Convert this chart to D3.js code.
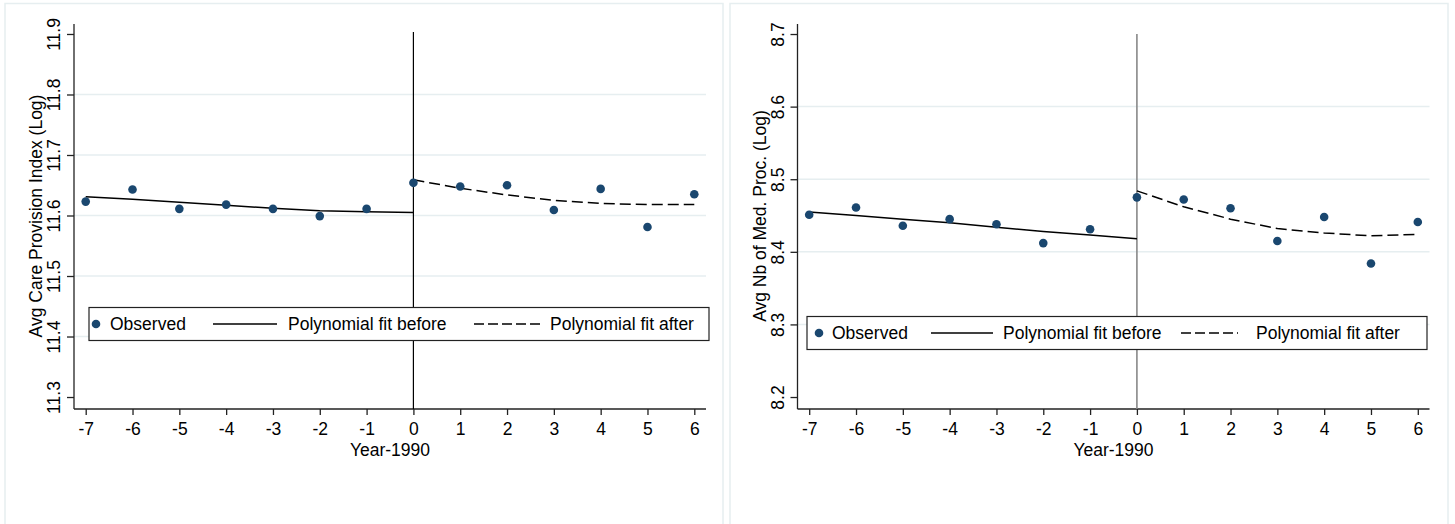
<!DOCTYPE html>
<html>
<head>
<meta charset="utf-8">
<script src="https://cdn.jsdelivr.net/npm/d3@7"></script>
<style>
  body { margin: 0; background: #fff; }
  svg { display: block; }
</style>
</head>
<body>
<svg id="chart" width="1455" height="524"></svg>
<script>
// data
const years = [-7, -6, -5, -4, -3, -2, -1, 0, 1, 2, 3, 4, 5, 6];
const yearsBefore = [-7, -6, -5, -4, -3, -2, -1, 0];
const yearsAfter = [0, 1, 2, 3, 4, 5, 6];

const careObserved = [11.623, 11.643, 11.611, 11.618, 11.611, 11.599, 11.611,
                      11.654, 11.648, 11.650, 11.609, 11.644, 11.581, 11.635];
const careFitBefore = [11.631, 11.627, 11.622, 11.617, 11.612, 11.608, 11.606, 11.605];
const careFitAfter = [11.659, 11.645, 11.634, 11.625, 11.620, 11.618, 11.618];
const careTicks = [11.3, 11.4, 11.5, 11.6, 11.7, 11.8, 11.9];

const medObserved = [8.451, 8.461, 8.436, 8.445, 8.438, 8.412, 8.431,
                     8.475, 8.472, 8.460, 8.415, 8.448, 8.384, 8.441];
const medFitBefore = [8.455, 8.450, 8.445, 8.440, 8.434, 8.428, 8.423, 8.418];
const medFitAfter = [8.484, 8.462, 8.445, 8.432, 8.426, 8.422, 8.424];
const medTicks = [8.2, 8.3, 8.4, 8.5, 8.6, 8.7];

const legendLabels = ["Observed", "Polynomial fit before", "Polynomial fit after"];

const dotColor = "#1a476f";
const gridColor = "#e6eef0";
const font = "'Liberation Sans', Arial, sans-serif";
const fontSize = 17.5;

const svg = d3.select("#chart");

function drawPanel(p) {
  // panel frame
  svg.append("rect")
    .attr("x", p.frameX).attr("y", 3.5)
    .attr("width", 718).attr("height", 540)
    .attr("fill", "#fff")
    .attr("stroke", gridColor)
    .attr("stroke-width", 1.5);

  const g = svg.append("g");
  const x = d3.scaleLinear().domain([-7.25, 6.25]).range([p.left, p.left + 632]);
  const y = d3.scaleLinear().domain(p.yDomain).range([409, 24]);

  // gridlines on inner ticks
  g.selectAll(".grid")
    .data(p.ticks.slice(1, -1))
    .enter()
    .append("line")
      .attr("x1", x.range()[0]).attr("x2", x.range()[1])
      .attr("y1", d => y(d)).attr("y2", d => y(d))
      .attr("stroke", gridColor)
      .attr("stroke-width", 1.5);

  // x axis (plain hyphen minus, like the original)
  g.append("g")
    .attr("transform", "translate(0,409)")
    .call(d3.axisBottom(x).tickValues(years).tickSize(6).tickFormat(d => String(d)))
    .call(a => a.select(".domain").attr("d", "M" + x.range()[0] + ",0H" + x.range()[1]))
    .call(a => a.selectAll("line, path").attr("stroke", "#222").attr("stroke-width", 1.3))
    .call(a => a.selectAll("text")
      .attr("y", 26).attr("dy", 0)
      .style("font-family", font)
      .style("font-size", fontSize)
      .attr("fill", "#000"));

  // y axis, rotated labels
  g.append("g")
    .attr("transform", "translate(" + p.left + ",0)")
    .call(d3.axisLeft(y).tickValues(p.ticks).tickSize(7).tickFormat(d3.format(".1f")))
    .call(a => a.select(".domain").attr("d", "M0,409V24"))
    .call(a => a.selectAll("line, path").attr("stroke", "#222").attr("stroke-width", 1.3))
    .call(a => a.selectAll("text")
      .attr("x", null).attr("dy", null)
      .attr("transform", "translate(-14,0) rotate(-90)")
      .style("text-anchor", "middle")
      .style("font-family", font)
      .style("font-size", fontSize)
      .attr("fill", "#000"));

  // axis titles
  g.append("text")
    .attr("transform", "translate(" + (p.left - 32) + ",216) rotate(-90)")
    .style("text-anchor", "middle")
    .style("font-family", font)
    .style("font-size", fontSize)
    .text(p.yTitle);
  g.append("text")
    .attr("x", p.left + 316)
    .attr("y", 456)
    .style("text-anchor", "middle")
    .style("font-family", font)
    .style("font-size", fontSize)
    .text("Year-1990");

  // vertical line at year 0
  g.append("line")
    .attr("x1", x(0)).attr("x2", x(0))
    .attr("y1", p.vTop).attr("y2", 409)
    .attr("stroke", p.vColor)
    .attr("stroke-width", p.vWidth);

  // fitted lines
  const line = d3.line().x(d => x(d[0])).y(d => y(d[1]));
  g.append("path")
    .datum(d3.zip(yearsBefore, p.fitBefore))
    .attr("d", line)
    .attr("fill", "none")
    .attr("stroke", "#000")
    .attr("stroke-width", 1.5);
  g.append("path")
    .datum(d3.zip(yearsAfter, p.fitAfter))
    .attr("d", line)
    .attr("fill", "none")
    .attr("stroke", "#000")
    .attr("stroke-width", 1.5)
    .attr("stroke-dasharray", "11,5");

  // observed dots
  g.selectAll(".dot")
    .data(d3.zip(years, p.observed))
    .enter()
    .append("circle")
      .attr("cx", d => x(d[0]))
      .attr("cy", d => y(d[1]))
      .attr("r", 4.3)
      .attr("fill", dotColor);

  // legend
  const lg = g.append("g").attr("transform", "translate(" + p.legX + "," + p.legY + ")");
  lg.append("rect")
    .attr("width", 620).attr("height", 33)
    .attr("fill", "#fff")
    .attr("stroke", "#222")
    .attr("stroke-width", 1.2);
  lg.append("circle")
    .attr("cx", p.leg[0]).attr("cy", 16.5).attr("r", 4.3)
    .attr("fill", dotColor);
  lg.append("line")
    .attr("x1", p.leg[2]).attr("x2", p.leg[3])
    .attr("y1", 16.5).attr("y2", 16.5)
    .attr("stroke", "#000").attr("stroke-width", 1.5);
  lg.append("line")
    .attr("x1", p.leg[5]).attr("x2", p.leg[6])
    .attr("y1", 16.5).attr("y2", 16.5)
    .attr("stroke", "#000").attr("stroke-width", 1.5)
    .attr("stroke-dasharray", "10,4");
  lg.selectAll(".legtext")
    .data(legendLabels)
    .enter()
    .append("text")
      .attr("x", (d, i) => p.leg[[1, 4, 7][i]])
      .attr("y", 16.5)
      .attr("dy", "0.36em")
      .style("font-family", font)
      .style("font-size", fontSize)
      .text(d => d);
}

drawPanel({
  frameX: 5, left: 74,
  yDomain: [11.2802, 11.9165], ticks: careTicks,
  yTitle: "Avg Care Provision Index (Log)",
  observed: careObserved, fitBefore: careFitBefore, fitAfter: careFitAfter,
  vTop: 32, vColor: "#000", vWidth: 1.2,
  legX: 89, legY: 307.5,
  leg: [7, 21, 124, 188, 199, 385, 451, 461]
});

drawPanel({
  frameX: 730, left: 797.5,
  yDomain: [8.1835, 8.7138], ticks: medTicks,
  yTitle: "Avg Nb of Med. Proc. (Log)",
  observed: medObserved, fitBefore: medFitBefore, fitAfter: medFitAfter,
  vTop: 34, vColor: "#888", vWidth: 1.6,
  legX: 807, legY: 316.5,
  leg: [12, 25, 124, 186, 196, 374, 431, 449]
});
</script>
</body>
</html>
